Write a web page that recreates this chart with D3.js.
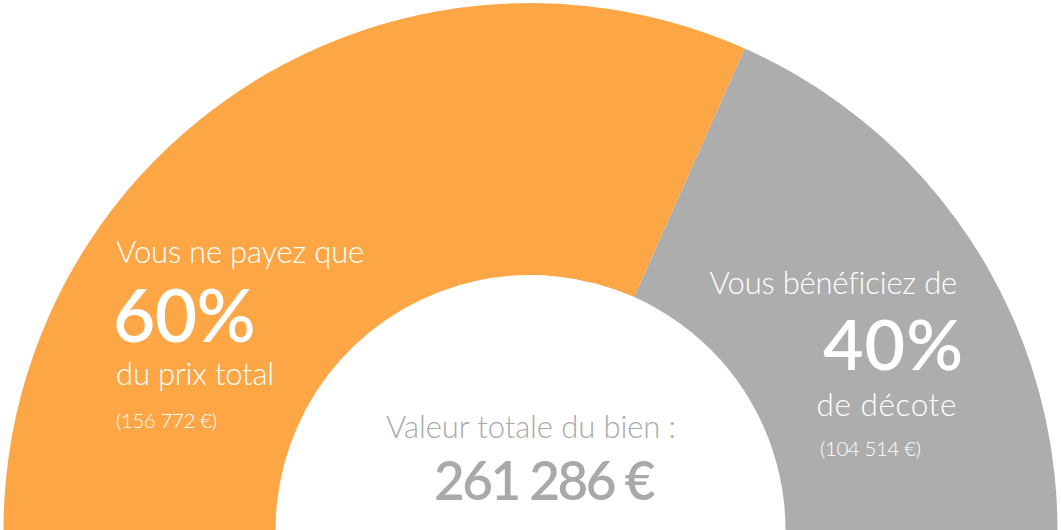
<!DOCTYPE html>
<html>
<head>
<meta charset="utf-8">
<script src="https://cdn.jsdelivr.net/npm/d3@7"></script>
<style>
  html, body { margin: 0; padding: 0; background: #ffffff; }
  svg { display: block; }
  text { font-family: Lato, "Open Sans", sans-serif; }
</style>
</head>
<body>
<svg id="chart" width="1061" height="530"></svg>
<script>
// ---- data ----
const categories = ["Prix payé", "Décote"];
const amounts = [156772, 104514];
const percents = [60, 40];
const totalValue = 261286;
const leadTexts = ["Vous ne payez que", "Vous bénéficiez de"];
const tailTexts = ["du prix total", "de décote"];
const centerTitle = "Valeur totale du bien :";
const colors = ["#FDA645", "#ADADAD"];

// ---- layout ----
const W = 1061, H = 530;
const cx = 530.5, cy = 530;
const outerR = 527, innerR = 255;
const overhang = 30 * Math.PI / 180; // gauge continues below the frame

const fr = d3.formatLocale({decimal: ",", thousands: "\u00a0", grouping: [3], currency: ["", "\u00a0€"]});
const fmt = fr.format(",d");

const svg = d3.select("#chart");
const g = svg.append("g").attr("transform", `translate(${cx},${cy})`);

const pie = d3.pie().sort(null)
  .startAngle(-Math.PI / 2 - overhang)
  .endAngle(Math.PI / 2 + overhang)
  .value(d => d.value);

const data = categories.map((c, i) => ({cat: c, value: percents[i], amount: amounts[i], i}));
const arc = d3.arc().innerRadius(innerR).outerRadius(outerR);

g.selectAll("path.slice")
  .data(pie(data))
  .join("path")
  .attr("class", "slice")
  .attr("d", arc)
  .attr("fill", d => colors[d.data.i]);

// ---- labels ----
const labelPos = [
  {x: 116, anchor: "start", bigX: 113, lead: 263, big: 342, bigSize: 73, bigLs: -0.6, tail: 385, amt: 428, amtX: 116, tailSize: 31, tailLs: -0.2},
  {x: 957, anchor: "end", bigX: 964, lead: 294, big: 370, bigSize: 70, bigLs: 1, tail: 416, amt: 456, amtX: 820, tailSize: 31.5, tailLs: 0.6}
];

const lab = svg.append("g");
data.forEach((d, i) => {
  const p = labelPos[i];
  lab.append("text").attr("x", p.x).attr("y", p.lead).attr("text-anchor", p.anchor)
    .attr("fill", "#fff").attr("font-size", 31).attr("font-weight", 300).attr("letter-spacing", -0.2)
    .text(leadTexts[i]);
  lab.append("text").attr("x", p.bigX).attr("y", p.big).attr("text-anchor", p.anchor)
    .attr("fill", "#fff").attr("font-size", p.bigSize).attr("font-weight", 600).attr("letter-spacing", p.bigLs)
    .text(d.value + "%");
  lab.append("text").attr("x", p.x).attr("y", p.tail).attr("text-anchor", p.anchor)
    .attr("fill", "#fff").attr("font-size", p.tailSize).attr("font-weight", 300).attr("letter-spacing", p.tailLs)
    .text(tailTexts[i]);
  lab.append("text").attr("x", p.amtX).attr("y", p.amt).attr("text-anchor", "start")
    .attr("fill", "#fff").attr("font-size", 20.5).attr("font-weight", 300).attr("letter-spacing", -0.4)
    .text("(" + fmt(d.amount) + "\u00a0€)");
});

svg.append("text").attr("x", 531).attr("y", 438).attr("text-anchor", "middle")
  .attr("fill", "#A9A9A9").attr("font-size", 31).attr("font-weight", 300).attr("letter-spacing", -0.1)
  .text(centerTitle);
svg.append("text").attr("x", 543.5).attr("y", 500).attr("text-anchor", "middle")
  .attr("fill", "#A9A9A9").attr("font-size", 53).attr("font-weight", 600).attr("letter-spacing", -2.5)
  .text(fmt(totalValue) + "\u00a0€");
</script>
</body>
</html>
